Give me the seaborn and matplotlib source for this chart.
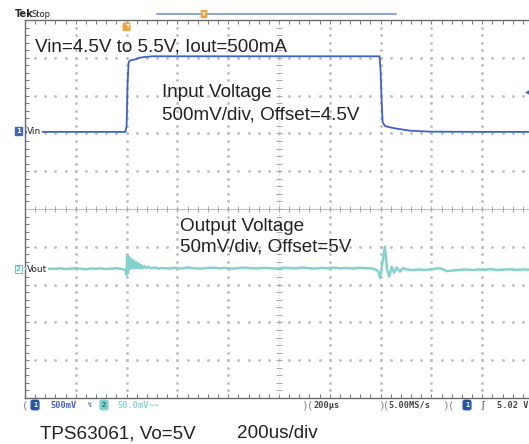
import numpy as np
import matplotlib
matplotlib.use('Agg')
import matplotlib.pyplot as plt
import seaborn as sns

# scope settings
ch1_offset = 4.5      # V
ch1_scale = 0.5       # V/div
ch1_pos = 2.04        # div
ch2_offset = 5.0      # V
ch2_scale = 50.0      # mV/div
ch2_pos = -1.587      # div
trig_level = 5.02     # V

# Vin trace (time in us, volts)
vin_t = [-400, -5, 0, 4, 8, 12, 20, 35, 50, 70, 100, 150, 300, 600, 996, 1000, 1004, 1008, 1017, 1037, 1065, 1116, 1195, 1400, 1600]
vin_v = [4.5, 4.5, 4.58, 5.15, 5.42, 5.44, 5.45, 5.46, 5.48, 5.49, 5.5, 5.5, 5.5, 5.5, 5.5, 5.3, 4.9, 4.63, 4.578, 4.56, 4.542, 4.516, 4.503, 4.5, 4.5]

# Vout trace (time in us, deviation from offset in mV)
vout_t = [-400, -380, -360, -340, -320, -300, -280, -260, -240, -220, -200, -180, -160, -140, -120, -100, -80, -60, -40, -20, -8,
          -3, 0, 2, 5, 9, 13, 18, 23, 28, 33, 38, 43, 48, 53, 58, 64, 70, 77, 85, 95, 110, 125,
          140, 165, 190, 215, 240, 265, 290, 315, 340, 365, 390, 415, 440, 465, 490, 515, 540, 565, 590, 615, 640, 665,
          690, 715, 740, 765, 790, 815, 840, 865, 890, 915, 940, 965, 985,
          992, 998, 1008, 1017, 1026, 1034, 1044, 1053, 1063, 1076, 1088,
          1100, 1125, 1150, 1175, 1200, 1225, 1240, 1260, 1285, 1310, 1335, 1360, 1385, 1410, 1435, 1460, 1485, 1510,
          1535, 1560, 1585, 1600]
vout_mv = [0.5, -0.3, 0.8, 0.2, -0.5, 0.6, 0.1, 0.9, -0.2, 0.4, 1.0, 0.3, -0.4, 0.7, 0.2, 0.8, -0.1, 0.5, 0.9, 0.2, -1.0,
           -3, -8, 18, -6, 16, 0, 13, 1, 11, 1, 9, 1, 7, 1, 5, 1, 4, 1, 3, 1, 2, 0.5,
           1.2, 0.6, 1.5, 0.8, 1.9, 1.0, 0.4, 1.3, 1.7, 0.9, 1.4, 0.5, 1.2, 1.8, 1.0, 0.7, 1.5, 1.1, 0.6, 1.6, 1.3, 0.8,
           1.9, 1.2, 0.5, 1.4, 1.0, 1.7, 0.9, 1.3, 0.6, 1.5, 1.1, 0.8, -1.5,
           -4, -12, 9.7, 29.5, -1.3, -10, 3, -5, 2, -3.5, 1,
           -0.5, -1.5, -0.8, -1.2, -0.3, 0.8, 0.5, -2.8, -2.0, -1.2, -0.6, -1.4, -0.7, -1.0, -0.2, -1.3, -0.8, -0.4,
           -1.2, -0.6, -1.0, -0.8]

sns.set_theme(style='white')
plt.rcParams['font.family'] = ['Liberation Sans', 'DejaVu Sans']

W, H = 529, 444
fig = plt.figure(figsize=(W / 100, H / 100), dpi=100)
fig.patch.set_facecolor('white')


def fx(px):
    return px / W


def fy(py):
    return 1 - py / H


ax = fig.add_axes([fx(25), fy(398), 508 / W, 378 / H])
ax.set_xlim(-400, 1600)
ax.set_ylim(-5, 5)
ax.set_facecolor('white')

# graticule
grid_c = '#bcbcbc'
minor_y = np.linspace(-5, 5, 51)
minor_x = np.linspace(-400, 1600, 51)
for gx in [-200, 0, 200, 400, 800, 1000, 1200, 1400]:
    ax.plot([gx] * len(minor_y), minor_y, ls='none', marker='s', ms=0.9, color=grid_c, zorder=1)
for gy in [-4, -3, -2, -1, 1, 2, 3, 4]:
    ax.plot(minor_x, [gy] * len(minor_x), ls='none', marker='s', ms=0.9, color=grid_c, zorder=1)
ax.axhline(0, color='#c0c0c0', lw=0.8, zorder=1)
ax.axvline(600, color='#c8c8c8', lw=0.6, ls=(0, (1, 2)), zorder=1)
ax.vlines(minor_x, -0.08, 0.08, color='#a8a8a8', lw=0.7, zorder=1)
ax.hlines(minor_y, 590, 610, color='#a8a8a8', lw=0.7, zorder=1)

ax.set_xticks(minor_x)
ax.set_yticks(minor_y)
ax.tick_params(which='both', direction='in', length=3, width=0.7, color='#777777',
               top=True, bottom=True, left=True, right=False,
               labelbottom=False, labelleft=False)
for s in ['left', 'top', 'bottom']:
    ax.spines[s].set_color('#6a6a6a')
    ax.spines[s].set_linewidth(1.0)
ax.spines['right'].set_visible(False)
ax.grid(False)

# traces
vin_div = ch1_pos + (np.array(vin_v) - ch1_offset) / ch1_scale
vout_div = ch2_pos + np.array(vout_mv) / ch2_scale
sns.lineplot(x=vout_t, y=vout_div, ax=ax, color='#84d2cf', lw=1.8, sort=False, estimator=None, zorder=3)
sns.lineplot(x=vin_t, y=vin_div, ax=ax, color='#3f62c8', lw=1.3, sort=False, estimator=None, zorder=4)

# trigger level marker on right edge
trig_div = ch1_pos + (trig_level - ch1_offset) / ch1_scale
fig.text(fx(527), fy(209 - trig_div * 37.8), '\u25c0', color='#3f62c8', fontsize=4,
         ha='center', va='center', family='DejaVu Sans')

# trigger position marker
ax.text(0, 4.82, 'T', color='white', fontsize=4.5, fontweight='bold', ha='center', va='center',
        family='DejaVu Sans', zorder=6,
        bbox=dict(boxstyle='round,pad=0.2', fc='#eea43a', ec='#eea43a'))

# header
fig.text(fx(15), fy(17), 'Tek', fontsize=7, fontweight='bold', family='DejaVu Sans',
         color='#222222', va='baseline')
fig.text(fx(32), fy(17), 'Stop', fontsize=6, family='DejaVu Sans', color='#222222', va='baseline')
fig.add_artist(plt.Line2D([fx(157), fx(396)], [fy(14.5), fy(14.5)], color='#8fa2dc', lw=1.4))
fig.text(fx(204), fy(14), 'T', color='white', fontsize=4, fontweight='bold', ha='center', va='center',
         family='DejaVu Sans', bbox=dict(boxstyle='round,pad=0.15', fc='#eea43a', ec='#eea43a'))

# channel markers
fig.text(fx(16), fy(131), '1', color='white', fontsize=5, fontweight='bold', va='center',
         family='DejaVu Sans', bbox=dict(boxstyle='square,pad=0.15', fc='#3f62c8', ec='#3f62c8'))
fig.text(fx(27), fy(131), 'Vin', color='#222222', fontsize=6.5, va='center', family='DejaVu Sans',
         bbox=dict(boxstyle='square,pad=0.05', fc='white', ec='none'), zorder=10)
fig.text(fx(16), fy(269), '2', color='#6cc6c4', fontsize=5, fontweight='bold', va='center',
         family='DejaVu Sans', bbox=dict(boxstyle='square,pad=0.15', fc='white', ec='#6cc6c4', lw=0.8))
fig.text(fx(27), fy(269), 'Vout', color='#222222', fontsize=6.5, va='center', family='DejaVu Sans',
         bbox=dict(boxstyle='square,pad=0.05', fc='white', ec='none'), zorder=10)

# annotations
big = 13.6
fig.text(fx(35), fy(51), 'Vin=4.5V to 5.5V, Iout=500mA', fontsize=big, color='#222222', va='baseline')
fig.text(fx(162), fy(97), 'Input Voltage', fontsize=big, color='#222222', va='baseline')
fig.text(fx(162), fy(120), '500mV/div, Offset=4.5V', fontsize=big, color='#222222', va='baseline')
fig.text(fx(180), fy(231), 'Output Voltage', fontsize=big, color='#222222', va='baseline')
fig.text(fx(180), fy(251), '50mV/div, Offset=5V', fontsize=big, color='#222222', va='baseline')
fig.text(fx(40), fy(438), 'TPS63061, Vo=5V', fontsize=big, color='#222222', va='baseline')
fig.text(fx(237), fy(438), '200us/div', fontsize=big, color='#222222', va='baseline')

# status bar
mono = ['DejaVu Sans Mono', 'DejaVu Sans']
sy = fy(405)
sb = 6.2
fig.text(fx(23), sy, '(', fontsize=8, color='#888888', va='center', family='DejaVu Sans')
fig.text(fx(35), sy, '1', fontsize=5, color='white', fontweight='bold', va='center', ha='center', family=mono,
         bbox=dict(boxstyle='round,pad=0.25', fc='#2c55a8', ec='#2c55a8'))
fig.text(fx(50), sy, '500mV', fontsize=sb, color='#3f62c8', fontweight='bold', va='center', family=mono)
fig.text(fx(87), sy, '\u21af', fontsize=5, color='#3f62c8', va='center', family='DejaVu Sans')
fig.text(fx(104), sy, '2', fontsize=5, color='#2a6a6a', fontweight='bold', va='center', ha='center', family=mono,
         bbox=dict(boxstyle='round,pad=0.25', fc='#7dd0cd', ec='#7dd0cd'))
fig.text(fx(117), sy, '50.0mV~~', fontsize=sb, color='#8ad6d3', fontweight='bold', va='center', family=mono)
fig.text(fx(302), sy, ')', fontsize=8, color='#888888', va='center', family='DejaVu Sans')
fig.text(fx(308), sy, '(', fontsize=8, color='#888888', va='center', family='DejaVu Sans')
fig.text(fx(313), sy, '200\u00b5s', fontsize=sb, color='#444444', fontweight='bold', va='center', family=mono)
fig.text(fx(379), sy, ')', fontsize=8, color='#888888', va='center', family='DejaVu Sans')
fig.text(fx(384), sy, '(', fontsize=8, color='#888888', va='center', family='DejaVu Sans')
fig.text(fx(388), sy, '5.00MS/s', fontsize=sb, color='#444444', fontweight='bold', va='center', family=mono)
fig.text(fx(443), sy, ')', fontsize=8, color='#888888', va='center', family='DejaVu Sans')
fig.text(fx(449), sy, '(', fontsize=8, color='#888888', va='center', family='DejaVu Sans')
fig.text(fx(467), sy, '1', fontsize=5, color='white', fontweight='bold', va='center', ha='center', family=mono,
         bbox=dict(boxstyle='round,pad=0.25', fc='#2c55a8', ec='#2c55a8'))
fig.text(fx(481), sy, '\u0283', fontsize=sb, color='#333333', va='center', family='DejaVu Sans')
fig.text(fx(497), sy, '5.02 V', fontsize=sb, color='#444444', fontweight='bold', va='center', family=mono)

fig.savefig('out.png', dpi=100)
